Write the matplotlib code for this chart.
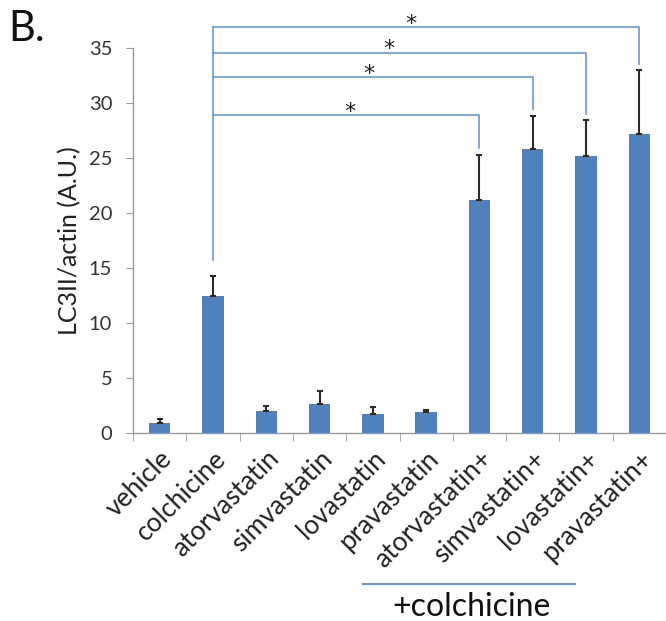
import matplotlib.pyplot as plt

plt.rcParams['font.family'] = ['Lato', 'DejaVu Sans']

categories = ["vehicle", "colchicine", "atorvastatin", "simvastatin", "lovastatin",
              "pravastatin", "atorvastatin+", "simvastatin+", "lovastatin+", "pravastatin+"]
means = [0.96, 12.5, 2.0, 2.66, 1.75, 1.9, 21.2, 25.85, 25.2, 27.2]
err_top = [1.3, 14.3, 2.5, 3.85, 2.36, 2.1, 25.3, 28.85, 28.45, 33.0]
errors = [t - m for t, m in zip(err_top, means)]

# significance brackets: colchicine vs each statin+colchicine
ref_idx = 1
bracket_targets = [6, 7, 8, 9]
bracket_heights = [28.9, 32.4, 34.6, 36.9]
star_x = [3.57, 3.93, 4.30, 4.71]

bar_color = "#4F81BD"
line_color = "#6A98D0"

fig = plt.figure(figsize=(6.66, 6.21), dpi=100)
ax = fig.add_axes([133 / 666, 1 - 433.3 / 621, (666 - 133) / 666, (433.3 - 48.3) / 621])

x = list(range(len(categories)))
ax.bar(x, means, width=0.4, color=bar_color, zorder=2)
ax.errorbar(x, means, yerr=[[0] * len(errors), errors], fmt='none',
            ecolor='#2b2b2b', elinewidth=1.5, capsize=2.5, capthick=1.5, zorder=3)

ax.set_xlim(-0.5, 9.46)
ax.set_ylim(0, 35)
ax.set_yticks(range(0, 36, 5))
ax.set_xticks(x)
ax.set_xticklabels(categories, rotation=45, ha='right', rotation_mode='anchor', fontsize=19)
ax.set_xticks([i + 0.5 for i in range(-1, len(categories))], minor=True)
ax.tick_params(axis='x', which='major', length=0, pad=9, colors='#222222')
ax.tick_params(axis='x', which='minor', length=6, direction='out', color='#999999')
ax.tick_params(axis='y', length=5, color='#999999', labelsize=14.5, labelcolor='#333333', pad=10)

for s in ['top', 'right']:
    ax.spines[s].set_visible(False)
for s in ['left', 'bottom']:
    ax.spines[s].set_color('#999999')
    ax.spines[s].set_linewidth(1.0)

ax.set_ylabel("LC3II/actin (A.U.)", fontsize=18, color='#222222', labelpad=5)

# brackets
ax.plot([ref_idx, ref_idx], [err_top[ref_idx] + 1.45, max(bracket_heights)],
        color=line_color, lw=1.2, clip_on=False, zorder=4)
for t, h, sx in zip(bracket_targets, bracket_heights, star_x):
    ax.plot([ref_idx, t, t], [h, h, err_top[t] + 0.6], color=line_color, lw=1.2,
            clip_on=False, zorder=4)
    ax.text(sx, h - 0.25, "*", ha='center', va='baseline', fontsize=16,
            color='#222222', family='DejaVu Sans')

# group underline
ax.plot([3.82, 7.8], [-13.7, -13.7], color=line_color, lw=1.5, clip_on=False)
ax.text(5.86, -14.4, "+colchicine", ha='center', va='top', fontsize=23, color='#111111')

fig.text(0.012, 0.984, "B.", fontsize=30, ha='left', va='top', color='#111111')

fig.savefig("out.png", dpi=100)
